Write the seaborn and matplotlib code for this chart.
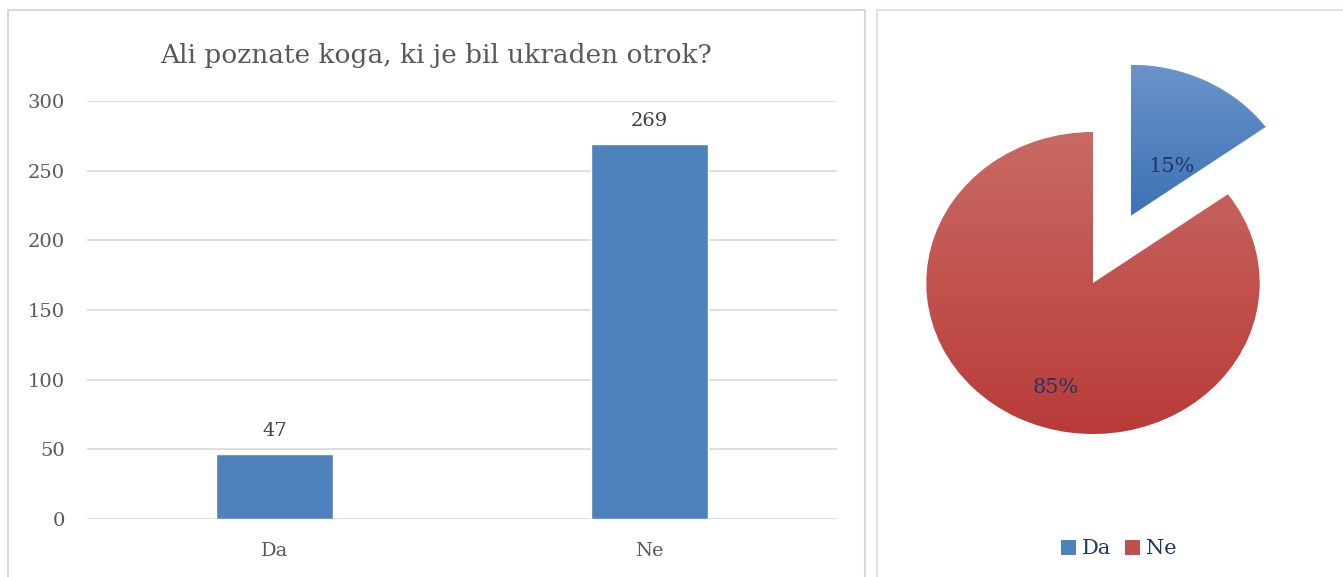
import numpy as np
import pandas as pd
import seaborn as sns
import matplotlib.pyplot as plt
from matplotlib.patches import Rectangle, Patch
from matplotlib.colors import LinearSegmentedColormap

# Chart data
categories = ['Da', 'Ne']
counts = [47, 269]
shares = [15, 85]
title = 'Ali poznate koga, ki je bil ukraden otrok?'
yticks = [0, 50, 100, 150, 200, 250, 300]

sns.set_theme(style='white')
plt.rcParams['font.family'] = ['DejaVu Serif', 'DejaVu Sans']

W, H = 1343, 577
fig = plt.figure(figsize=(W / 100, H / 100), dpi=100)


def px(x0, y0, x1, y1):
    # pixel box (top-left origin) -> figure fraction rect
    return [x0 / W, 1 - y1 / H, (x1 - x0) / W, (y1 - y0) / H]


# Panel frames
fig.patches.append(Rectangle((8 / W, -0.05), (865 - 8) / W, 1 - 10 / H + 0.05,
                             transform=fig.transFigure, fill=False,
                             edgecolor='#d9d9d9', lw=1.5))
fig.patches.append(Rectangle((877 / W, -0.05), 0.5, 1 - 10 / H + 0.05,
                             transform=fig.transFigure, fill=False,
                             edgecolor='#d6e3f3', lw=1.5))

# Bar chart
ax = fig.add_axes(px(87, 101, 837, 519))
df = pd.DataFrame({'Odgovor': categories, 'Stevilo': counts})
sns.barplot(data=df, x='Odgovor', y='Stevilo', color='#4f81bd',
            saturation=1, width=0.313, ax=ax)
ax.set_xlim(-0.5, 1.5)
ax.set_ylim(0, 300)
ax.set_yticks(yticks)
ax.yaxis.grid(True, color='#d9d9d9', lw=1.2)
ax.set_axisbelow(True)
for s in ax.spines.values():
    s.set_visible(False)
ax.set_xlabel('')
ax.set_ylabel('')
ax.tick_params(axis='y', labelsize=14, labelcolor='#595959', pad=16, length=0)
ax.tick_params(axis='x', labelsize=14, labelcolor='#595959', pad=16.5, length=0)
for c in ax.containers:
    ax.bar_label(c, fmt='%d', padding=10, fontsize=14, color='#404040')
fig.text(436 / W, 1 - 55 / H, title, ha='center', va='center',
         fontsize=19, color='#595959')

# Pie chart
pax = fig.add_axes(px(1093 - 266.7, 283 - 241.6, 1093 + 266.7, 283 + 241.6))
wedges, _, autotexts = pax.pie(shares, startangle=90, counterclock=False,
                               explode=[0.5, 0], autopct='%d%%',
                               colors=['#4f81bd', '#c0504d'],
                               textprops={'fontsize': 15, 'color': '#1f3864'})
pax.set_aspect('auto')
pax.axis('off')

# vertical gradient fill for each slice
grads = [('#6b93c9', '#3b72b6'), ('#c96a64', '#b93b38')]
for w, (top, bot) in zip(wedges, grads):
    cmap = LinearSegmentedColormap.from_list('g', [bot, top])
    ext = w.get_path().get_extents().transformed(w.get_patch_transform())
    img = pax.imshow(np.linspace(0, 1, 256).reshape(-1, 1), cmap=cmap,
                     origin='lower', aspect='auto',
                     extent=[ext.x0, ext.x1, ext.y0, ext.y1], zorder=w.get_zorder())
    img.set_clip_path(w)
    w.set_visible(False)
pax.set_xlim(-1.6, 1.6)
pax.set_ylim(-1.6, 1.6)

# label placement (radius relative to slice apex, angle in degrees)
label_pos = [(0.41, 53), (0.73, 252)]
for t, w, (r, a) in zip(autotexts, wedges, label_pos):
    cx, cy = w.center
    t.set_position((cx + r * np.cos(np.radians(a)), cy + r * np.sin(np.radians(a))))
    t.set_zorder(5)

handles = [Patch(facecolor=c, edgecolor='none') for c in ['#4f81bd', '#c0504d']]
fig.legend(handles, categories, loc='center', bbox_to_anchor=(1119 / W, 1 - 549 / H),
           ncol=2, frameon=False, fontsize=15, labelcolor='#1f3864',
           handlelength=0.7, handleheight=0.7, handletextpad=0.3, columnspacing=0.65)

fig.savefig('out.png', dpi=100, facecolor='white')
